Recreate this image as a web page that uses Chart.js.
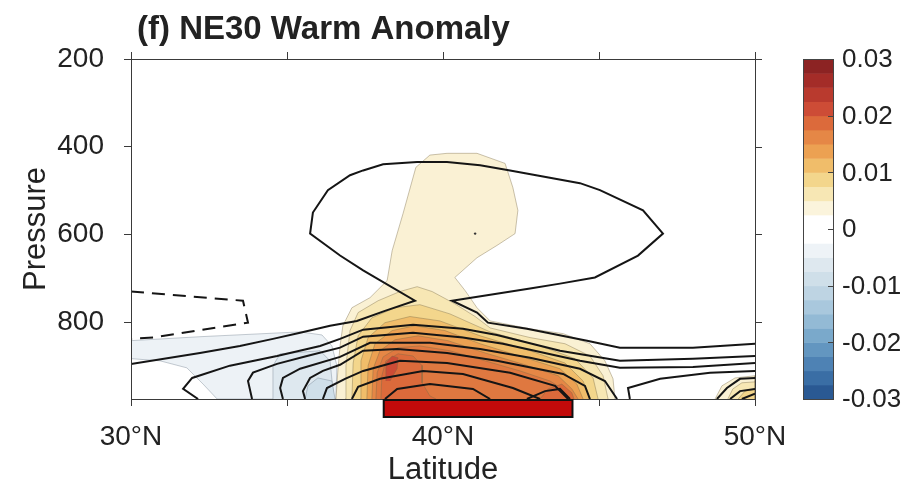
<!DOCTYPE html>
<html>
<head>
<meta charset="utf-8">
<script src="https://cdn.jsdelivr.net/npm/chart.js@4.4.1/dist/chart.umd.min.js"></script>
<style>
  html, body { margin: 0; padding: 0; background: #fff; }
  #wrap { width: 922px; height: 489px; position: relative; }
</style>
</head>
<body>
<div id="wrap"><canvas id="chart"></canvas></div>
<script>
// Axes
const latTicks = [30, 35, 40, 45, 50];
const latLabels = ['30°N', '', '40°N', '', '50°N'];
const pressureTicks = [200, 400, 600, 800];
const pressureTop = 200;
const pressureBottom = 975;

// Colour bar (bands listed bottom to top)
const cbEdges = [-0.03, -0.0275, -0.025, -0.0225, -0.02, -0.0175, -0.015, -0.0125, -0.01, -0.0075, -0.005, -0.0025,
                 0, 0.0025, 0.005, 0.0075, 0.01, 0.0125, 0.015, 0.0175, 0.02, 0.0225, 0.025, 0.0275, 0.03];
const cbColors = ['#2A5993', '#3A6EA5', '#4E82B4', '#6396C0', '#7AA9CB', '#93BAD5', '#A9C8DD', '#BED4E3',
                  '#CFDFE9', '#DEE8EF', '#EEF3F7', '#FFFFFF', '#FFFFFF', '#FBF4DC', '#F7E7B4', '#F3D68C',
                  '#F0BD6A', '#ECA152', '#E58746', '#DC6A3B', '#CD4C36', '#B93A2E', '#A42C28', '#8C2323'];
const cbTicks = [-0.03, -0.02, -0.01, 0, 0.01, 0.02, 0.03];
const cbLabels = ['-0.03', '-0.02', '-0.01', '0', '0.01', '0.02', '0.03'];

// Warm box marker under the axis (latitude range)
const boxLat = [38.1, 44.15];

// Shaded regions [lat, hPa]
const coolFill1 = [[30, 842], [32.21, 833], [35.42, 822], [36.12, 829], [36.44, 854], [36.60, 899], [36.57, 975],
                   [32.76, 975], [32.31, 941], [31.79, 904], [30.93, 888], [30, 883]];
const coolFill2 = [[34.55, 975], [34.55, 899], [34.78, 872], [36.06, 865], [36.38, 888], [36.50, 975]];
const coolFill3 = [[35.58, 975], [35.67, 945], [35.99, 927], [36.44, 934], [36.54, 975]];

const warmFill1 = [[36.57, 975], [36.63, 911], [36.70, 854], [36.79, 808], [37.08, 767], [37.66, 744], [38.21, 705],
                   [38.37, 637], [38.72, 552], [39.13, 447], [39.58, 419], [40.13, 415], [41.09, 415], [41.99, 438],
                   [42.24, 493], [42.40, 545], [42.31, 598], [41.73, 625], [41.09, 653], [40.38, 698], [40.71, 728],
                   [41.09, 767], [41.51, 797], [42.79, 815], [43.85, 826], [44.71, 849], [45.19, 888], [45.45, 929],
                   [45.51, 975]];
const warmFill2 = [[36.86, 975], [36.89, 899], [37.02, 819], [37.28, 778], [37.92, 751], [38.62, 730], [39.17, 719],
                   [39.65, 730], [40.38, 758], [41.03, 787], [41.51, 813], [42.79, 835], [43.91, 849], [44.71, 877],
                   [45.13, 922], [45.29, 975]];
const warmFill3 = [[37.08, 975], [37.12, 893], [37.28, 831], [37.72, 790], [38.46, 767], [39.26, 760], [40.22, 781],
                   [41.51, 822], [43.11, 854], [44.23, 883], [44.81, 927], [44.97, 975]];
const warmFill4 = [[37.34, 975], [37.37, 888], [37.60, 835], [38.14, 801], [38.94, 787], [39.90, 797], [41.19, 831],
                   [42.79, 865], [43.91, 893], [44.49, 934], [44.71, 975]];
const warmFill5 = [[37.56, 975], [37.60, 899], [37.82, 849], [38.37, 819], [39.10, 808], [40.06, 819], [41.19, 849],
                   [42.63, 881], [43.75, 906], [44.29, 941], [44.49, 975]];
const warmFill6 = [[37.72, 975], [37.76, 906], [37.98, 865], [38.46, 840], [39.20, 831], [40.16, 842], [41.35, 870],
                   [42.63, 897], [43.69, 922], [44.13, 952], [44.33, 975]];
const warmFill7 = [[37.85, 975], [37.89, 915], [38.08, 879], [38.56, 858], [39.26, 854], [40.22, 865], [41.35, 888],
                   [42.47, 911], [43.43, 934], [43.94, 957], [44.13, 975]];
const warmFill8a = [[38.01, 975], [38.04, 922], [38.17, 888], [38.56, 872], [39.04, 877], [39.33, 899], [39.33, 938],
                    [39.58, 968], [39.78, 975]];
const warmFill8b = [[43.11, 975], [43.37, 952], [43.81, 941], [44.13, 961], [44.20, 975]];
const warmFill9 = [[38.17, 934], [38.17, 893], [38.37, 877], [38.56, 881], [38.53, 906], [38.30, 934]];
const cornerFill1 = [[48.72, 975], [48.94, 945], [49.36, 927], [50, 922], [50, 975]];
const cornerFill2 = [[49.13, 975], [49.29, 952], [49.58, 938], [50, 936], [50, 975]];
const cornerFill3 = [[49.46, 975], [49.68, 957], [50, 952], [50, 975]];

// Contour lines [lat, hPa]
const contourA = [[30, 895], [32.21, 870], [33.49, 854], [34.55, 838], [35.42, 824], [36.38, 808], [37.24, 797],
                  [38.14, 774], [39.10, 751], [37.44, 682], [36.70, 648], [35.74, 598], [35.83, 550], [36.31, 499],
                  [37.02, 465], [37.44, 454], [38.08, 440], [39.17, 435], [40.13, 435], [41.19, 442], [42.15, 454],
                  [44.39, 483], [45.03, 499], [46.41, 545], [47.05, 598], [46.25, 648], [44.87, 698], [43.75, 712],
                  [42.79, 723], [40.29, 751], [41.09, 778], [41.44, 801], [42.69, 815], [44.62, 842], [45.67, 858],
                  [48.01, 858], [50, 849]];
const contourB = [[32.15, 975], [31.67, 952], [31.96, 927], [33.17, 899], [34.68, 877], [36.06, 854], [36.70, 838],
                  [37.44, 817], [39.04, 806], [40.64, 815], [41.73, 829], [43.75, 865], [45.67, 888], [48.01, 883],
                  [50, 877]];
const contourC = [[33.88, 975], [33.75, 934], [33.91, 915], [34.68, 895], [35.64, 877], [36.70, 858], [37.44, 833],
                  [39.04, 824], [40.64, 835], [41.92, 849], [44.39, 888], [45.67, 904], [48.01, 902], [50, 893]];
const contourD = [[34.87, 975], [34.78, 950], [34.87, 927], [35.42, 906], [36.70, 879], [37.66, 847], [39.58, 847],
                  [41.19, 861], [42.79, 881], [44.39, 906], [45.19, 934], [45.58, 975]];
const contourE = [[35.58, 975], [35.51, 957], [35.74, 927], [36.15, 911], [36.70, 897], [37.44, 865], [38.53, 861],
                  [40.13, 870], [41.73, 888], [43.85, 918], [44.55, 945], [44.71, 975]];
const contourF = [[36.15, 975], [36.28, 950], [36.86, 929], [37.44, 911], [38.62, 888], [40.13, 893], [42.15, 915],
                  [43.59, 945], [44.01, 975]];
const contourG = [[37.08, 975], [37.28, 947], [37.98, 929], [39.36, 911], [40.64, 918], [42.24, 950], [43.11, 975]];
const contourH = [[38.14, 975], [38.53, 952], [39.58, 941], [40.96, 952], [41.51, 975]];
const contourI = [[42.69, 975], [43.27, 957], [43.75, 952], [44.07, 975]];
const contourJ = [[45.99, 975], [45.93, 950], [46.96, 929], [48.56, 915], [50, 911]];
const contourK = [[48.78, 975], [49.10, 950], [49.52, 929], [50, 927]];
const contourL = [[49.20, 975], [49.52, 957], [50, 952]];
const contourM = [[49.58, 975], [50, 963]];
const negContour = [[30, 730], [33.59, 751], [33.75, 801], [30.71, 835], [30, 838]];
const dotContour = [[41.03, 598]];

const FONT = "'Liberation Sans', Arial, Helvetica, sans-serif";
const TEXT = '#222222';
const AXIS = '#3a3a3a';

const toXY = pts => pts.map(([lat, p]) => ({ x: lat, y: p }));

function fillSet(pts, color, edge) {
    return {
        data: toXY(pts),
        backgroundColor: color,
        borderColor: edge,
        borderWidth: 1,
        fill: 'shape',
        pointRadius: 0,
        tension: 0
    };
}

function lineSet(pts, dash) {
    return {
        data: toXY(pts),
        borderColor: '#151515',
        borderWidth: 2,
        borderDash: dash || [],
        fill: false,
        pointRadius: 0,
        tension: 0
    };
}

const coolEdge = 'rgba(110,125,140,0.4)';
const warmEdge = 'rgba(120,105,70,0.4)';

const datasets = [
    fillSet(coolFill1, '#EDF2F6', coolEdge),
    fillSet(coolFill2, '#DEE8EF', coolEdge),
    fillSet(coolFill3, '#CFDFE9', coolEdge),
    fillSet(warmFill1, '#FAF1D4', warmEdge),
    fillSet(warmFill2, '#F7E7B4', warmEdge),
    fillSet(warmFill3, '#F3D68C', warmEdge),
    fillSet(warmFill4, '#F0BD6A', warmEdge),
    fillSet(warmFill5, '#ECA152', warmEdge),
    fillSet(warmFill6, '#E58746', warmEdge),
    fillSet(warmFill7, '#DF7840', warmEdge),
    fillSet(warmFill8a, '#DC6A3B', warmEdge),
    fillSet(warmFill8b, '#DC6A3B', warmEdge),
    fillSet(warmFill9, '#CD4C36', warmEdge),
    fillSet(cornerFill1, '#FAF1D4', warmEdge),
    fillSet(cornerFill2, '#F7E7B4', warmEdge),
    fillSet(cornerFill3, '#F3D68C', warmEdge),
    lineSet(contourA), lineSet(contourB), lineSet(contourC), lineSet(contourD),
    lineSet(contourE), lineSet(contourF), lineSet(contourG), lineSet(contourH),
    lineSet(contourI), lineSet(contourJ), lineSet(contourK), lineSet(contourL),
    lineSet(contourM),
    lineSet(negContour, [13, 8]),
    { data: toXY(dotContour), showLine: false, pointRadius: 1.2, pointBackgroundColor: '#333', pointBorderWidth: 0 }
];
// Chart.js paints the first dataset last, so give later entries a lower order
datasets.forEach((ds, i) => { ds.order = datasets.length - i; });

// Box, top/right ticks, warm box marker, colour bar and panel title
const framePlugin = {
    id: 'frame',
    afterDraw(chart) {
        const ctx = chart.ctx;
        const { left, right, top, bottom } = chart.chartArea;
        const xs = chart.scales.x;
        const ys = chart.scales.y;
        const cb = chart.scales.cb;
        ctx.save();

        ctx.strokeStyle = AXIS;
        ctx.lineWidth = 1;
        ctx.strokeRect(Math.round(left) + 0.5, Math.round(top) + 0.5, Math.round(right - left), Math.round(bottom - top));
        ctx.beginPath();
        latTicks.forEach(v => {
            const x = Math.round(xs.getPixelForValue(v)) + 0.5;
            ctx.moveTo(x, top);
            ctx.lineTo(x, top - 7);
        });
        pressureTicks.forEach(v => {
            const y = Math.round(ys.getPixelForValue(v)) + 0.5;
            ctx.moveTo(right, y);
            ctx.lineTo(right + 7, y);
        });
        ctx.stroke();

        // red marker
        const bx0 = xs.getPixelForValue(boxLat[0]);
        const bx1 = xs.getPixelForValue(boxLat[1]);
        ctx.fillStyle = '#C20A0A';
        ctx.fillRect(bx0, bottom + 1, bx1 - bx0, 17);
        ctx.strokeStyle = '#111';
        ctx.lineWidth = 2;
        ctx.strokeRect(bx0, bottom + 1, bx1 - bx0, 17);

        // colour bar
        const cx0 = right + 48;
        const cw = 30;
        for (let i = 0; i < cbColors.length; i++) {
            const y0 = cb.getPixelForValue(cbEdges[i + 1]);
            const y1 = cb.getPixelForValue(cbEdges[i]);
            ctx.fillStyle = cbColors[i];
            ctx.fillRect(cx0, y0, cw, y1 - y0 + 0.5);
        }
        ctx.strokeStyle = '#444';
        ctx.lineWidth = 1;
        const cyTop = cb.getPixelForValue(cbEdges[cbEdges.length - 1]);
        const cyBot = cb.getPixelForValue(cbEdges[0]);
        ctx.strokeRect(cx0 + 0.5, Math.round(cyTop) + 0.5, cw, Math.round(cyBot - cyTop));
        ctx.beginPath();
        cbTicks.slice(1, -1).forEach(v => {
            const y = Math.round(cb.getPixelForValue(v)) + 0.5;
            ctx.moveTo(cx0 + cw, y);
            ctx.lineTo(cx0 + cw - 5, y);
        });
        ctx.stroke();

        // colour bar labels
        ctx.fillStyle = TEXT;
        ctx.font = '26px ' + FONT;
        ctx.textAlign = 'left';
        ctx.textBaseline = 'middle';
        cbTicks.forEach((v, i) => {
            ctx.fillText(cbLabels[i], right + 87, cb.getPixelForValue(v) + 1);
        });

        // title
        ctx.font = 'bold 33px ' + FONT;
        ctx.textBaseline = 'alphabetic';
        ctx.fillText('(f) NE30 Warm Anomaly', left + 6, 39);
        ctx.restore();
    }
};

const canvas = document.getElementById('chart');
new Chart(canvas.getContext('2d'), {
    type: 'line',
    data: { datasets: datasets },
    options: {
        responsive: true,
        maintainAspectRatio: false,
        animation: false,
        events: [],
        layout: { padding: { top: 59, left: 0, right: 0, bottom: 0 } },
        plugins: {
            legend: { display: false },
            tooltip: { enabled: false },
            title: { display: false }
        },
        scales: {
            x: {
                type: 'linear',
                position: 'bottom',
                min: latTicks[0],
                max: latTicks[latTicks.length - 1],
                afterBuildTicks: s => { s.ticks = latTicks.map(v => ({ value: v })); },
                afterFit: s => { s.height = 90; },
                grid: { drawOnChartArea: false, tickLength: 7, color: AXIS },
                border: { color: AXIS },
                ticks: {
                    padding: 14,
                    maxRotation: 0,
                    color: TEXT,
                    font: { size: 28, family: FONT },
                    callback: v => latLabels[latTicks.indexOf(v)] || ''
                },
                title: {
                    display: true,
                    text: 'Latitude',
                    color: TEXT,
                    font: { size: 31, family: FONT },
                    padding: { top: 0, bottom: 0 }
                }
            },
            y: {
                type: 'linear',
                position: 'left',
                reverse: true,
                min: pressureTop,
                max: pressureBottom,
                afterBuildTicks: s => { s.ticks = pressureTicks.map(v => ({ value: v })); },
                afterFit: s => { s.width = 131; },
                grid: { drawOnChartArea: false, tickLength: 7, color: AXIS },
                border: { color: AXIS },
                ticks: {
                    padding: 20,
                    color: TEXT,
                    font: { size: 28, family: FONT }
                },
                title: {
                    display: true,
                    text: 'Pressure',
                    color: TEXT,
                    font: { size: 31, family: FONT },
                    padding: { top: 18, bottom: 0 }
                }
            },
            cb: {
                type: 'linear',
                position: 'right',
                min: cbEdges[0],
                max: cbEdges[cbEdges.length - 1],
                afterFit: s => { s.width = 167; },
                grid: { display: false, drawTicks: false },
                border: { display: false },
                ticks: { display: false }
            }
        }
    },
    plugins: [framePlugin]
});
</script>
</body>
</html>
